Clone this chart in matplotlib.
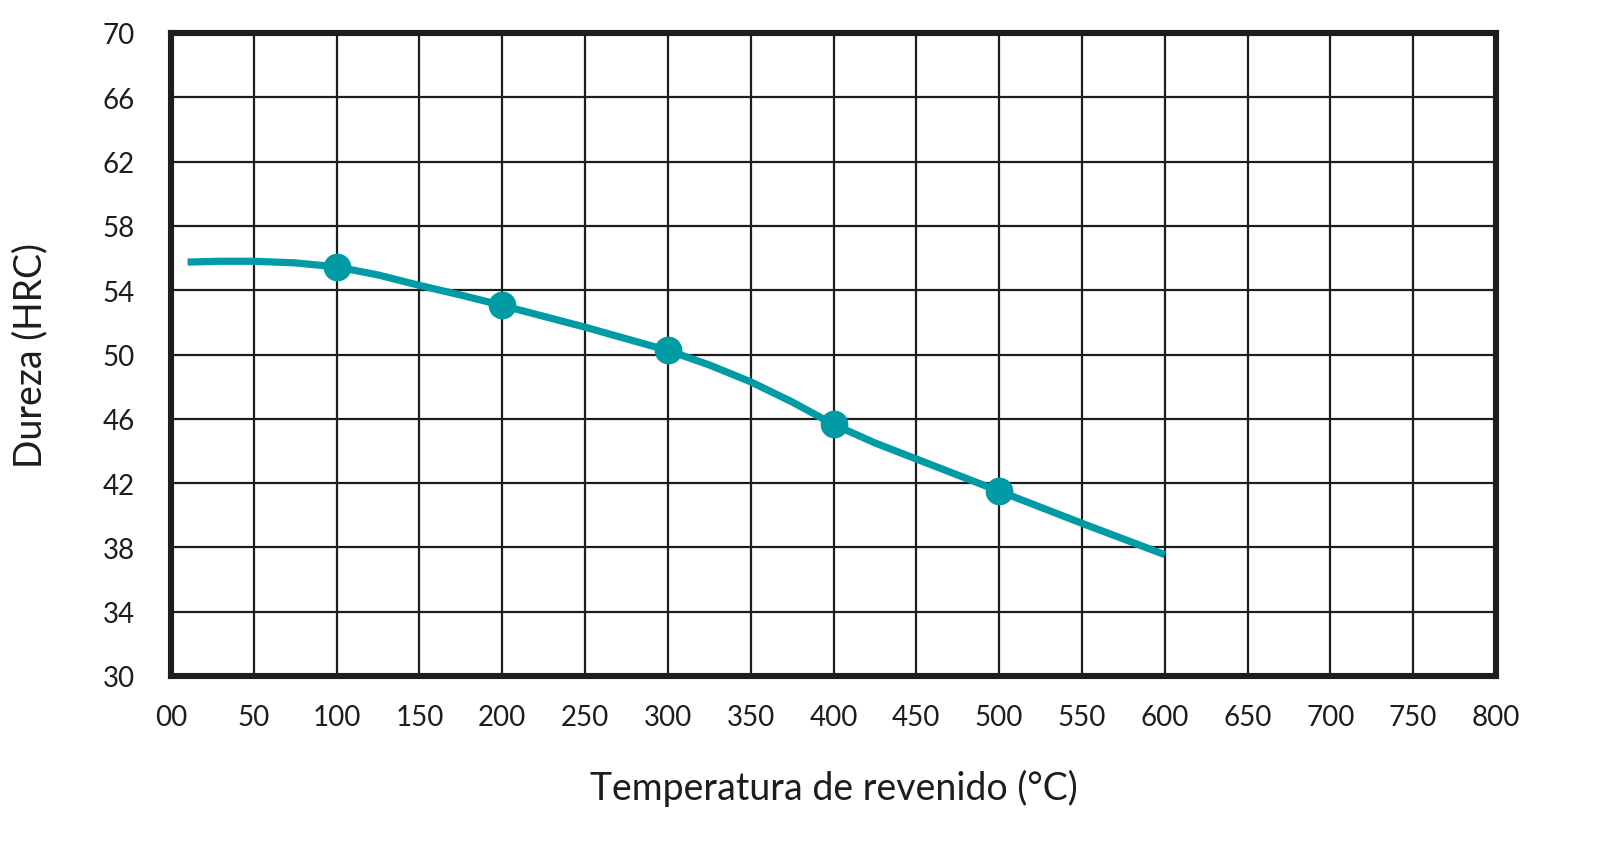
import matplotlib
matplotlib.use("Agg")
import matplotlib.pyplot as plt

# ---- data ----
temp_curve = [10, 30, 50, 75, 100, 125, 150, 175, 200, 250, 300, 325, 350, 375, 400,
              425, 450, 475, 500, 550, 600]
hard_curve = [55.75, 55.8, 55.8, 55.7, 55.45, 54.95, 54.3, 53.7, 53.05, 51.7, 50.25,
              49.35, 48.3, 47.05, 45.65, 44.5, 43.5, 42.5, 41.5, 39.5, 37.55]
temp_marks = [100, 200, 300, 400, 500]
hard_marks = [55.45, 53.05, 50.25, 45.65, 41.5]

x_ticks = [0, 50, 100, 150, 200, 250, 300, 350, 400, 450, 500, 550, 600, 650, 700, 750, 800]
x_tick_labels = ["00", "50", "100", "150", "200", "250", "300", "350", "400", "450",
                 "500", "550", "600", "650", "700", "750", "800"]
y_ticks = [30, 34, 38, 42, 46, 50, 54, 58, 62, 66, 70]
y_tick_labels = [str(v) for v in y_ticks]

x_label = "Temperatura de revenido (°C)"
y_label = "Dureza (HRC)"

# ---- style ----
plt.rcParams['font.family'] = ['Lato', 'DejaVu Sans']
teal = '#009ba4'
dark = '#1d1d1b'

fig = plt.figure(figsize=(16.21, 8.62), dpi=100)
ax = fig.add_axes([171 / 1621, 1 - 677 / 862, (1496 - 171) / 1621, (677 - 34) / 862])

ax.set_xlim(0, 800)
ax.set_ylim(30, 70)
ax.set_xticks(x_ticks)
ax.set_xticklabels(x_tick_labels)
ax.set_yticks(y_ticks)
ax.set_yticklabels(y_tick_labels)
ax.tick_params(axis='both', length=0, labelsize=20, colors=dark)
ax.tick_params(axis='x', pad=20)
ax.tick_params(axis='y', pad=26)

ax.grid(True, color=dark, linewidth=1.6)
ax.set_axisbelow(True)
for s in ax.spines.values():
    s.set_linewidth(4.4)
    s.set_color(dark)

ax.plot(temp_curve, hard_curve, color=teal, linewidth=5.2, solid_capstyle='butt',
        solid_joinstyle='round', zorder=3)
ax.plot(temp_marks, hard_marks, linestyle='none', marker='o', markersize=19,
        color=teal, zorder=4)

fig.text((171 + 1496) / 2 / 1621, 1 - 800 / 862, x_label, ha='center', va='baseline',
         fontsize=27, color=dark)
fig.text(30 / 1621, 1 - 355 / 862, y_label, ha='center', va='center', rotation=90,
         fontsize=27, color=dark)

fig.savefig('out.png', dpi=100)
